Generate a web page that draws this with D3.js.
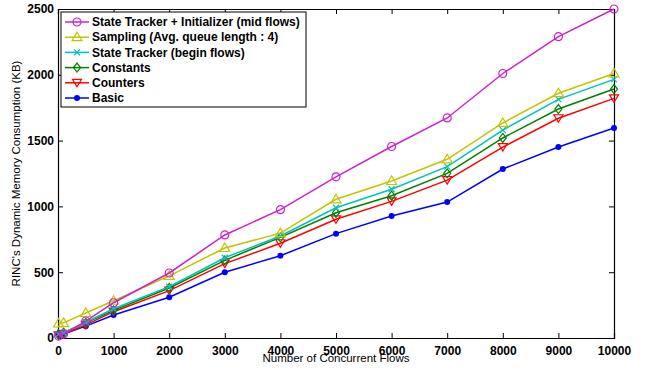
<!DOCTYPE html>
<html>
<head>
<meta charset="utf-8">
<script src="https://cdn.jsdelivr.net/npm/d3@7"></script>
<style>
  body { margin: 0; background: #fff; }
  svg text { font-family: "Liberation Sans", Arial, sans-serif; }
</style>
</head>
<body>
<svg id="chart" width="646" height="370"></svg>
<script>
// flows on x axis
const flows = [10, 100, 500, 1000, 2000, 3000, 4000, 5000, 6000, 7000, 8000, 9000, 10000];

const trackerInit = [15, 30, 129, 268, 494, 783, 975, 1225, 1455, 1672, 2010, 2290, 2500];
const sampling    = [110, 115, 190, 283, 472, 684, 797, 1054, 1193, 1358, 1634, 1860, 2010];
const trackerBegin = [30, 40, 120, 222, 390, 610, 775, 990, 1130, 1302, 1580, 1813, 1965];
const constants   = [30, 40, 115, 210, 380, 590, 765, 952, 1081, 1251, 1520, 1740, 1892];
const counters    = [20, 30, 100, 200, 360, 565, 720, 902, 1038, 1200, 1451, 1670, 1821];
const basic       = [20, 30, 90, 175, 310, 500, 625, 793, 927, 1033, 1284, 1451, 1596];

const xTicks = [0, 1000, 2000, 3000, 4000, 5000, 6000, 7000, 8000, 9000, 10000];
const yTicks = [0, 500, 1000, 1500, 2000, 2500];

const series = [
  { name: "State Tracker + Initializer (mid flows)", values: trackerInit, color: "#cc22cc", marker: "circle" },
  { name: "Sampling (Avg. queue length : 4)", values: sampling, color: "#c4c400", marker: "triangle" },
  { name: "State Tracker (begin flows)", values: trackerBegin, color: "#00c0c0", marker: "cross" },
  { name: "Constants", values: constants, color: "#008000", marker: "diamond" },
  { name: "Counters", values: counters, color: "#ff0000", marker: "triangleDown" },
  { name: "Basic", values: basic, color: "#0000ff", marker: "dot" }
];

const margin = { top: 9, right: 32, bottom: 32, left: 58 };
const width = 646 - margin.left - margin.right;
const height = 370 - margin.top - margin.bottom;

const svg = d3.select('#chart');
const g = svg.append('g').attr('transform', `translate(${margin.left},${margin.top})`);

const x = d3.scaleLinear().domain([0, 10000]).range([0, width]);
const y = d3.scaleLinear().domain([0, 2500]).range([height, 0]);

// axes, matlab style ticks pointing inwards
g.append('g')
  .attr('transform', `translate(0,${height})`)
  .call(d3.axisBottom(x).tickValues(xTicks).tickSize(-5).tickPadding(8).tickFormat(d3.format('d')));
g.append('g')
  .call(d3.axisLeft(y).tickValues(yTicks).tickSize(-5).tickPadding(4).tickFormat(d3.format('d')));
g.append('g')
  .call(d3.axisTop(x).tickValues(xTicks).tickSize(-5).tickFormat(''));
g.append('g')
  .attr('transform', `translate(${width},0)`)
  .call(d3.axisRight(y).tickValues(yTicks).tickSize(-5).tickFormat(''));

g.selectAll('.domain').attr('stroke', '#000').attr('stroke-width', 1.2);
g.selectAll('.tick line').attr('stroke', '#000');
g.selectAll('.tick text')
  .attr('font-size', 12).attr('font-weight', 'bold').attr('fill', '#000');

// marker shapes
function drawMarker(sel, type, color) {
  if (type === 'circle') {
    sel.append('circle').attr('r', 4).attr('fill', 'none').attr('stroke', color).attr('stroke-width', 1.2);
  } else if (type === 'triangle') {
    sel.append('path').attr('d', 'M0,-5L5,3.5L-5,3.5Z').attr('fill', 'none').attr('stroke', color).attr('stroke-width', 1.2);
  } else if (type === 'triangleDown') {
    sel.append('path').attr('d', 'M0,4L4.5,-3.5L-4.5,-3.5Z').attr('fill', 'none').attr('stroke', color).attr('stroke-width', 1.2);
  } else if (type === 'diamond') {
    sel.append('path').attr('d', 'M0,-4.5L3.5,0L0,4.5L-3.5,0Z').attr('fill', 'none').attr('stroke', color).attr('stroke-width', 1.2);
  } else if (type === 'cross') {
    sel.append('path').attr('d', 'M-3,-3L3,3M-3,3L3,-3').attr('stroke', color).attr('stroke-width', 1.2);
  } else {
    sel.append('circle').attr('r', 3).attr('fill', color);
  }
}

const line = d3.line().x((d, i) => x(flows[i])).y(d => y(d));

// draw from bottom to top so magenta sits above
series.slice().reverse().forEach(s => {
  g.append('path')
    .datum(s.values)
    .attr('fill', 'none')
    .attr('stroke', s.color)
    .attr('stroke-width', 1.5)
    .attr('d', line);
  const pts = g.selectAll(null)
    .data(s.values)
    .enter()
    .append('g')
    .attr('transform', (d, i) => `translate(${x(flows[i])},${y(d)})`);
  drawMarker(pts, s.marker, s.color);
});

// legend
const legend = g.append('g').attr('transform', 'translate(3,3)');
legend.append('rect')
  .attr('width', 245).attr('height', 95)
  .attr('fill', '#fff').attr('stroke', '#000').attr('stroke-width', 1);
series.forEach((s, i) => {
  const row = legend.append('g').attr('transform', `translate(0,${10 + i * 15.2})`);
  row.append('line').attr('x1', 4).attr('x2', 28).attr('stroke', s.color).attr('stroke-width', 1.5);
  drawMarker(row.append('g').attr('transform', 'translate(16,0)'), s.marker, s.color);
  row.append('text')
    .attr('x', 31).attr('dy', '0.35em')
    .attr('font-size', 12).attr('font-weight', 'bold')
    .text(s.name);
});

// axis labels
svg.append('text')
  .attr('x', margin.left + width / 2).attr('y', 362)
  .attr('text-anchor', 'middle').attr('font-size', 11.5)
  .text('Number of Concurrent Flows');
svg.append('text')
  .attr('transform', `translate(20,${margin.top + height / 2}) rotate(-90)`)
  .attr('text-anchor', 'middle').attr('font-size', 11.5)
  .text("RINC's Dynamic Memory Consumption (KB)");
</script>
</body>
</html>
